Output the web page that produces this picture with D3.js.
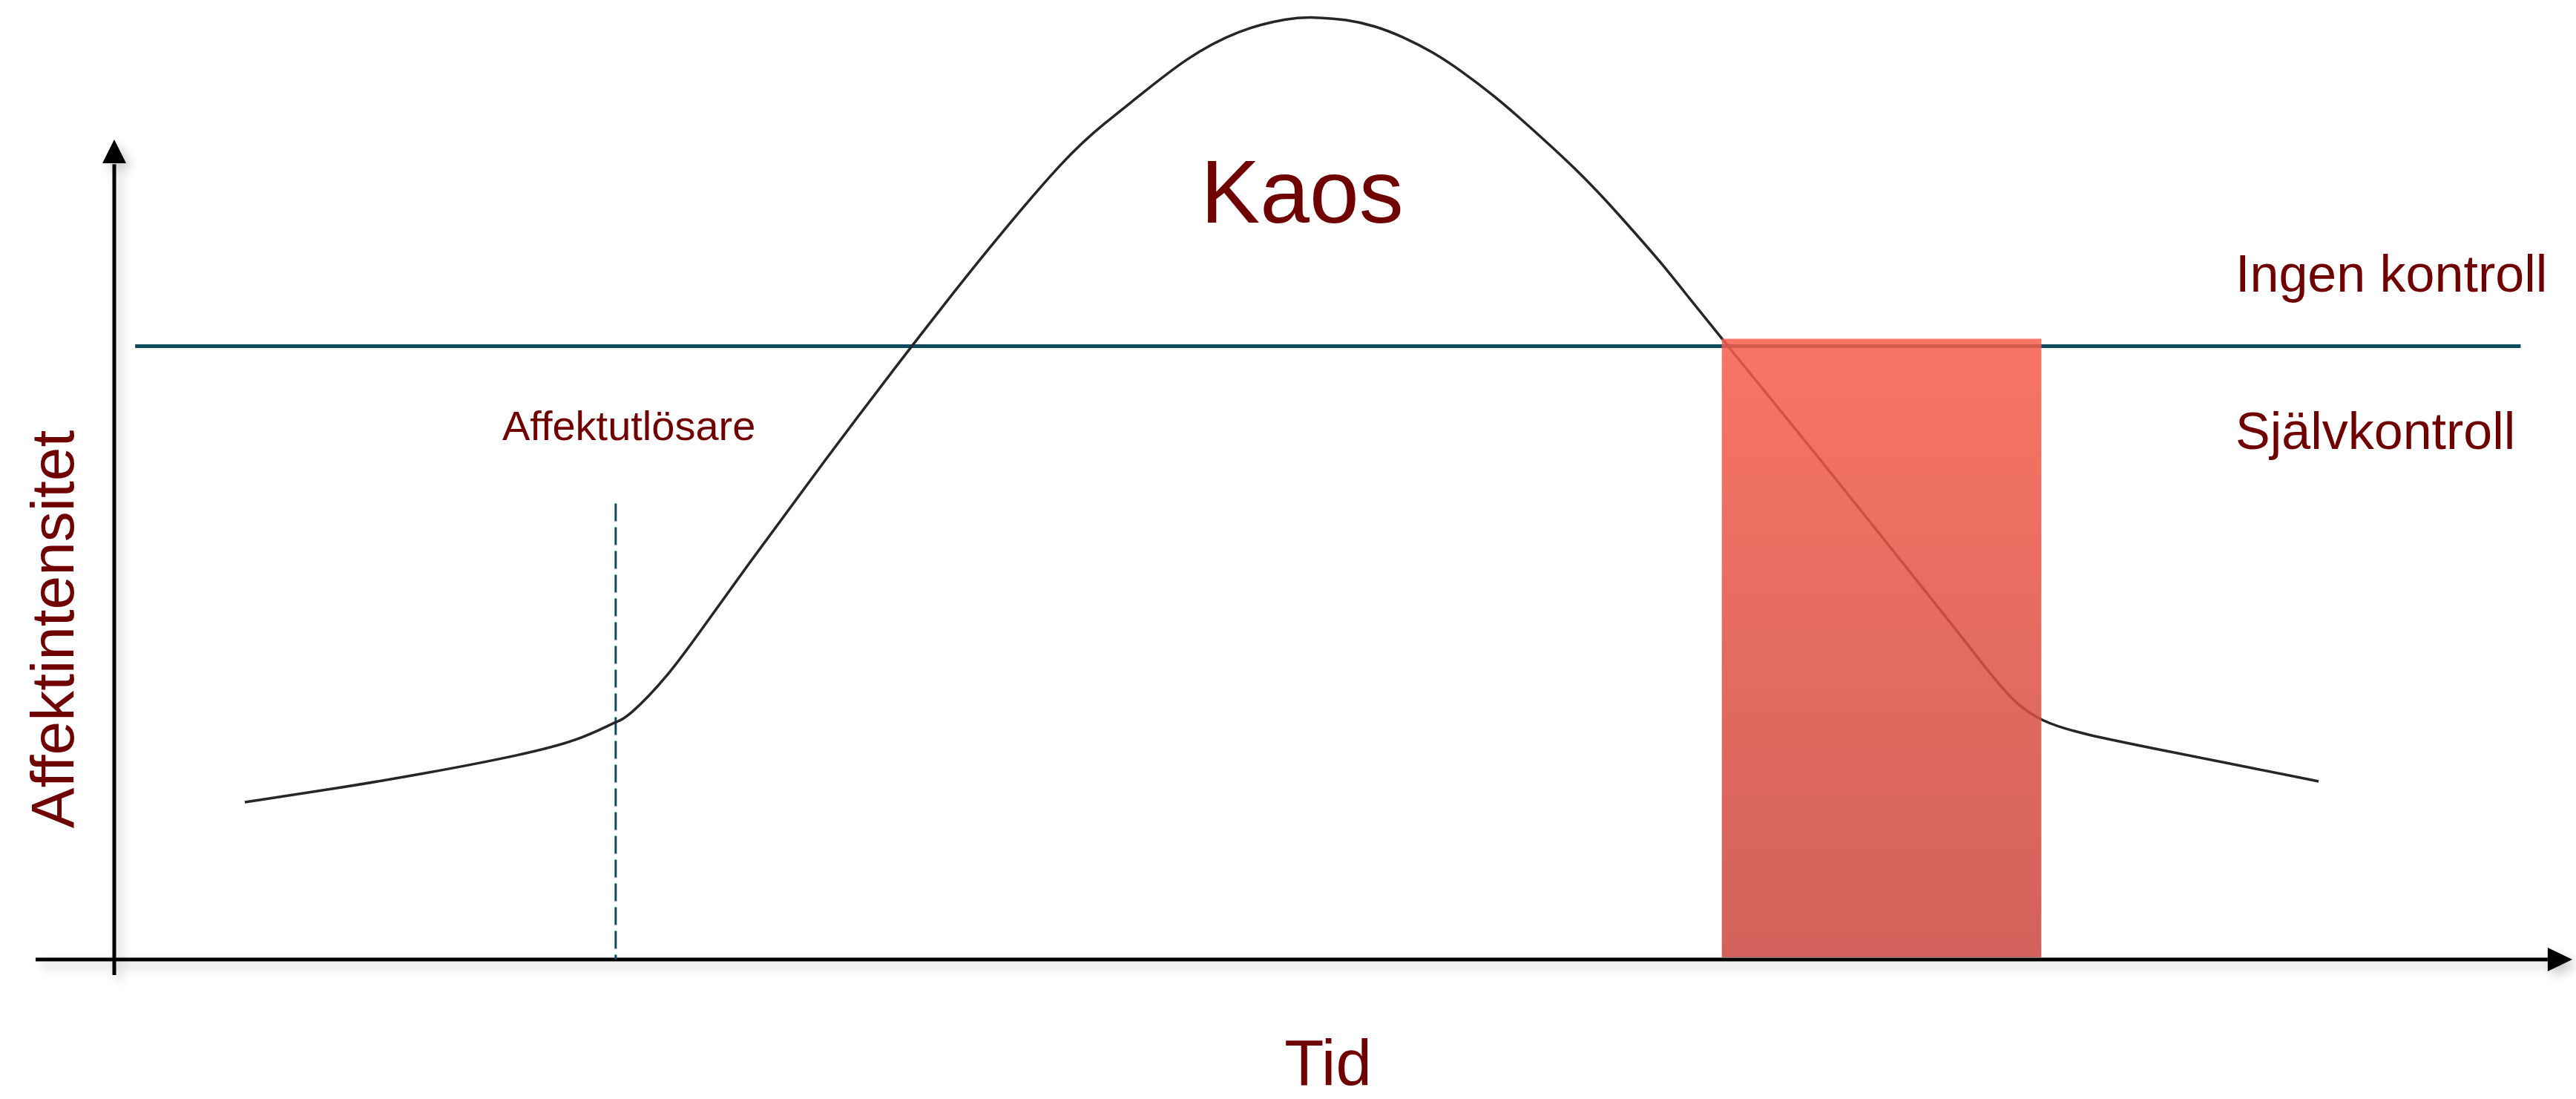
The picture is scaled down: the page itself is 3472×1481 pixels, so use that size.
<!DOCTYPE html>
<html>
<head>
<meta charset="utf-8">
<script src="https://cdn.jsdelivr.net/npm/d3@7"></script>
<style>
  body { margin: 0; background: #fff; }
  svg { display: block; font-family: "Liberation Sans", Arial, sans-serif; }
  .lbl { fill: #700000; }
</style>
</head>
<body>
<svg id="chart" width="3472" height="1481"></svg>
<script>
// curve: time (0-100) vs affect intensity
var curveTime = [5.31, 8.93, 12.71, 16.48, 18.90, 20.43, 20.86, 22.52, 24.03, 25.54, 28.86, 32.42, 35.50, 38.82,
                 40.33, 41.56, 43.65, 45.73, 47.81, 48.75, 50.14, 51.31, 52.46, 53.64, 54.78, 56.17, 57.11, 58.29,
                 59.43, 60.61, 61.76, 62.91, 64.08, 65.44, 69.09, 72.77, 75.04, 76.55, 77.42, 78.42, 79.87, 83.79,
                 86.81, 89.68];
var curveIntensity = [19.19, 20.81, 22.71, 24.89, 26.70, 29.05, 29.41, 34.48, 40.81, 47.15, 60.72, 74.75, 86.52, 98.28,
                      102.08, 104.98, 110.05, 113.39, 114.84, 114.93, 114.66, 113.85, 112.49, 110.68, 108.42, 105.25, 102.81, 99.64,
                      96.47, 92.85, 88.96, 85.07, 80.63, 75.57, 62.17, 48.33, 39.82, 33.94, 31.04, 29.05, 27.60, 25.25,
                      23.44, 21.72];

var controlLevel = 74.8;            // Ingen kontroll / Självkontroll border
var controlLine = [0.85, 97.9];     // time extent of that line
var triggerTime = 20.4;             // Affektutlösare
var triggerTop = 55.6;
var recoveryBand = [65.4, 78.4];    // red band, time
var recoveryTop = 75.7;

var svg = d3.select("#chart");

var x = d3.scaleLinear().domain([0, 100]).range([154, 3467]);
var y = d3.scaleLinear().domain([0, 100]).range([1293, 188]);

var defs = svg.append("defs");

var shadow = defs.append("filter").attr("id", "shadow")
  .attr("x", "-20%").attr("y", "-20%").attr("width", "140%").attr("height", "140%");
shadow.append("feDropShadow")
  .attr("dx", 7).attr("dy", 7).attr("stdDeviation", 7)
  .attr("flood-color", "#000").attr("flood-opacity", 0.22);

var grad = defs.append("linearGradient").attr("id", "redGrad")
  .attr("x1", 0).attr("y1", 0).attr("x2", 0).attr("y2", 1);
grad.append("stop").attr("offset", "0%").attr("stop-color", "#f65d49");
grad.append("stop").attr("offset", "100%").attr("stop-color", "#ca463f");

// axes with arrow heads
var axes = svg.append("g").attr("filter", "url(#shadow)");

axes.append("line")
  .attr("x1", x(-3.2)).attr("x2", x(99))
  .attr("y1", y(0)).attr("y2", y(0))
  .attr("stroke", "#000").attr("stroke-width", 5);
axes.append("path")
  .attr("d", d3.line()([[x(100), y(0)], [x(99), y(0) - 16], [x(99), y(0) + 16]]) + "Z")
  .attr("fill", "#000");

axes.append("line")
  .attr("x1", x(0)).attr("x2", x(0))
  .attr("y1", y(-1.9)).attr("y2", y(97))
  .attr("stroke", "#000").attr("stroke-width", 5);
axes.append("path")
  .attr("d", d3.line()([[x(0), y(100)], [x(0) - 16, y(97.1)], [x(0) + 16, y(97.1)]]) + "Z")
  .attr("fill", "#000");

// control threshold
svg.append("line")
  .attr("x1", x(controlLine[0])).attr("x2", x(controlLine[1]))
  .attr("y1", y(controlLevel)).attr("y2", y(controlLevel))
  .attr("stroke", "#0d4a5e").attr("stroke-width", 5);

// trigger marker
svg.append("line")
  .attr("x1", x(triggerTime)).attr("x2", x(triggerTime))
  .attr("y1", y(triggerTop)).attr("y2", y(0))
  .attr("stroke", "#0d4a5e").attr("stroke-width", 3)
  .attr("stroke-dasharray", "24,8");

// curve
var line = d3.line()
  .x(function(d) { return x(d[0]); })
  .y(function(d) { return y(d[1]); })
  .curve(d3.curveBasis);

svg.append("path")
  .datum(d3.zip(curveTime, curveIntensity))
  .attr("d", line)
  .attr("fill", "none")
  .attr("stroke", "#262626")
  .attr("stroke-width", 3.5);

// red band
svg.append("rect")
  .attr("x", x(recoveryBand[0]))
  .attr("width", x(recoveryBand[1]) - x(recoveryBand[0]))
  .attr("y", y(recoveryTop))
  .attr("height", y(0) - y(recoveryTop) - 3)
  .attr("fill", "url(#redGrad)")
  .attr("fill-opacity", 0.85);

// labels
svg.append("text").attr("class", "lbl")
  .attr("x", 1755).attr("y", 300)
  .attr("text-anchor", "middle")
  .style("font-size", "120px")
  .text("Kaos");

svg.append("text").attr("class", "lbl")
  .attr("x", 3013).attr("y", 393)
  .style("font-size", "70px")
  .text("Ingen kontroll");

svg.append("text").attr("class", "lbl")
  .attr("x", 3013).attr("y", 605)
  .style("font-size", "70px")
  .text("Självkontroll");

svg.append("text").attr("class", "lbl")
  .attr("x", 677).attr("y", 593)
  .style("font-size", "56px")
  .text("Affektutlösare");

svg.append("text").attr("class", "lbl")
  .attr("transform", "translate(99,848) rotate(-90)")
  .attr("text-anchor", "middle")
  .style("font-size", "82px")
  .text("Affektintensitet");

svg.append("text").attr("class", "lbl")
  .attr("x", 1790).attr("y", 1462)
  .attr("text-anchor", "middle")
  .style("font-size", "87px")
  .text("Tid");
</script>
</body>
</html>
